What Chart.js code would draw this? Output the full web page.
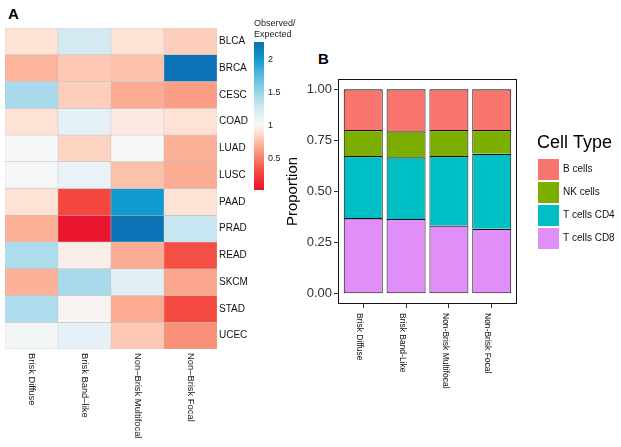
<!DOCTYPE html>
<html><head><meta charset="utf-8">
<script src="https://cdn.jsdelivr.net/npm/chart.js@4/dist/chart.umd.min.js"></script>
<style>
html,body{margin:0;padding:0;background:#fff;width:621px;height:447px;overflow:hidden;font-family:'Liberation Sans',Arial,Helvetica,sans-serif;}
canvas{position:absolute;}
.panel{position:absolute;font-weight:bold;font-size:15px;line-height:15px;color:#000;}
</style></head><body>
<div class="panel" style="left:8px;top:6px">A</div>
<div class="panel" style="left:318px;top:51px">B</div>
<canvas id="heat" width="257" height="447" style="left:0;top:0"></canvas>
<canvas id="cbar" width="50" height="200" style="left:253px;top:0"></canvas>
<canvas id="prop" width="341" height="407" style="left:280px;top:40px"></canvas>
<script>
// ---------- Panel A data (Observed / Expected) ----------
const cancerTypes = ['BLCA','BRCA','CESC','COAD','LUAD','LUSC','PAAD','PRAD','READ','SKCM','STAD','UCEC'];
const heatColumns = ['Brisk Diffuse','Brisk Band\u2013like','Non\u2013Brisk Multifocal','Non\u2013Brisk Focal'];
const briskDiffuse       = [0.90,0.72,1.45,0.90,1.05,1.05,0.90,0.70,1.43,0.70,1.42,1.06];
const briskBandLike      = [1.25,0.80,0.82,1.15,0.84,1.12,0.30,0.05,0.96,1.45,1.00,1.15];
const nonBriskMultifocal = [0.90,0.77,0.68,0.94,1.03,0.77,2.00,2.25,0.69,1.17,0.68,0.80];
const nonBriskFocal      = [0.82,2.25,0.63,0.90,0.70,0.69,0.90,1.30,0.33,0.66,0.31,0.57];
const colorbarRange = [0.03, 2.27];
const colorbarTicks = [0.5, 1, 1.5, 2];

// ---------- Panel B data (proportions) ----------
const patternLabels = ['Brisk Diffuse','Brisk Band-Like','Non-Brisk Multifocal','Non-Brisk Focal'];
const tCellsCD8 = [0.370,0.366,0.334,0.318];
const tCellsCD4 = [0.304,0.302,0.340,0.367];
const nkCells   = [0.127,0.127,0.127,0.116];
const bCells    = [0.199,0.205,0.199,0.199];
const proportionTicks = [0, 0.25, 0.5, 0.75, 1];

// ---------- styles ----------
const FONT = "'Liberation Sans', Arial, Helvetica, sans-serif";
Chart.defaults.font.family = FONT;
const heatColorStops = [[0.03,'#E8112D'],[0.30,'#F4473F'],[0.55,'#F88A72'],[0.75,'#FCBCA3'],[0.90,'#FEE2D6'],[1.02,'#F8F8F8'],[1.20,'#DDEEF5'],[1.45,'#A9DAEB'],[1.80,'#4DB6DF'],[2.00,'#129BD0'],[2.27,'#0A70B4']];
const cellColors = {'T cells CD8':'#E08EF8','T cells CD4':'#00BFC4','NK cells':'#7CAE00','B cells':'#F8766D'};

function hexRgb(h){return [parseInt(h.slice(1,3),16),parseInt(h.slice(3,5),16),parseInt(h.slice(5,7),16)];}
function colorFor(v){
  const s = heatColorStops;
  if (v <= s[0][0]) return s[0][1];
  for (let i=1;i<s.length;i++){
    if (v <= s[i][0]){
      const t=(v-s[i-1][0])/(s[i][0]-s[i-1][0]);
      const a=hexRgb(s[i-1][1]), b=hexRgb(s[i][1]);
      const c=a.map((x,k)=>Math.round(x+(b[k]-x)*t));
      return 'rgb('+c.join(',')+')';
    }
  }
  return s[s.length-1][1];
}

// ---------- Panel A heatmap ----------
const heatMatrix = cancerTypes.map((_, r) => [briskDiffuse[r], briskBandLike[r], nonBriskMultifocal[r], nonBriskFocal[r]]);
const heatLabelPlugin = {
  id:'heatLabels',
  afterDraw(chart){
    const ctx=chart.ctx, xs=chart.scales.x;
    ctx.save();
    ctx.font='9.4px '+FONT; ctx.fillStyle='#111'; ctx.textAlign='left'; ctx.textBaseline='middle';
    heatColumns.forEach((lab,i)=>{
      ctx.save(); ctx.translate(xs.getPixelForValue(i), chart.chartArea.bottom+4); ctx.rotate(Math.PI/2);
      ctx.fillText(lab,0,0); ctx.restore();
    });
    ctx.restore();
  }
};
new Chart(document.getElementById('heat'), {
  type:'bar',
  data:{
    labels: heatColumns,
    datasets: cancerTypes.map((name,r)=>({
      label:name, data: heatColumns.map(()=>1),
      backgroundColor: heatMatrix[r].map(colorFor),
      borderColor:'#BDBDBD', borderWidth:0.5, borderSkipped:false,
      barPercentage:1, categoryPercentage:1
    }))
  },
  options:{
    responsive:false, animation:false,
    layout:{padding:{left:5, top:28, right:0, bottom:0}},
    plugins:{legend:{display:false}, tooltip:{enabled:false}},
    scales:{
      x:{stacked:true, grid:{display:false}, border:{display:false}, ticks:{display:false}, afterFit:s=>{s.height=98;}},
      y:{stacked:true, position:'right', min:0, max:cancerTypes.length, reverse:true,
         grid:{display:false, drawTicks:false}, border:{display:false},
         afterBuildTicks:s=>{s.ticks=cancerTypes.map((_,i)=>({value:i+0.5}));},
         ticks:{autoSkip:false, padding:2, color:'#111', font:{size:10}, callback:(v,i)=>cancerTypes[i]},
         afterFit:s=>{s.width=40;}}
    }
  },
  plugins:[heatLabelPlugin]
});

// ---------- Colour bar ----------
new Chart(document.getElementById('cbar'), {
  type:'bar',
  data:{labels:[''], datasets:[{
    data:[colorbarRange],
    backgroundColor:(c)=>{
      const ch=c.chart; if(!ch.chartArea) return null;
      const y=ch.scales.y;
      const g=ch.ctx.createLinearGradient(0,y.getPixelForValue(colorbarRange[0]),0,y.getPixelForValue(colorbarRange[1]));
      heatColorStops.forEach(([v,col])=>g.addColorStop((v-colorbarRange[0])/(colorbarRange[1]-colorbarRange[0]),col));
      return g;
    },
    borderWidth:0, barPercentage:1, categoryPercentage:1
  }]},
  options:{
    responsive:false, animation:false,
    layout:{padding:{left:1, top:18.5, right:0, bottom:10}},
    plugins:{legend:{display:false}, tooltip:{enabled:false},
      title:{display:true, text:['Observed/','Expected'], align:'start', color:'#222',
             font:{size:9, weight:'normal', lineHeight:1.2}, padding:{top:0,bottom:1.9}}},
    scales:{
      x:{display:false},
      y:{position:'right', min:colorbarRange[0], max:colorbarRange[1],
         grid:{display:false, drawTicks:false}, border:{display:false},
         afterBuildTicks:s=>{s.ticks=colorbarTicks.map(v=>({value:v}));},
         ticks:{padding:4, color:'#222', font:{size:9}, callback:v=>String(v)},
         afterFit:s=>{s.width=39;}}
    }
  }
});

// ---------- Panel B stacked bars ----------
const propPlugin = {
  id:'propExtras',
  afterDraw(chart){
    const ctx=chart.ctx, a=chart.chartArea, xs=chart.scales.x;
    ctx.save();
    // panel border
    ctx.strokeStyle='#111'; ctx.lineWidth=1;
    ctx.strokeRect(Math.round(a.left)+0.5, Math.round(a.top)+0.5, Math.round(a.right-a.left)-1, Math.round(a.bottom-a.top)-1);
    // rotated x labels
    ctx.font='8.5px '+FONT; ctx.fillStyle='#111'; ctx.textAlign='left'; ctx.textBaseline='middle';
    patternLabels.forEach((lab,i)=>{
      ctx.save(); ctx.translate(xs.getPixelForValue(i)-4, a.bottom+9); ctx.rotate(Math.PI/2);
      ctx.fillText(lab,0,0); ctx.restore();
    });
    // legend
    ctx.textAlign='left'; ctx.textBaseline='middle'; ctx.fillStyle='#000';
    ctx.font='18px '+FONT;
    ctx.fillText('Cell Type', 257, 103);
    const items = chart.data.datasets.slice().reverse();
    ctx.font='10px '+FONT;
    items.forEach((ds,i)=>{
      const y0 = 119 + i*23;
      ctx.fillStyle=ds.backgroundColor; ctx.fillRect(258, y0, 21, 21);
      ctx.fillStyle='#111'; ctx.fillText(ds.label, 283, y0+10.5);
    });
    ctx.restore();
  }
};
const series = [['T cells CD8',tCellsCD8],['T cells CD4',tCellsCD4],['NK cells',nkCells],['B cells',bCells]];
new Chart(document.getElementById('prop'), {
  type:'bar',
  data:{datasets: series.map(([name,vals],k)=>({
    label:name, data: vals.map((v,i)=>({x:i,y:v})),
    backgroundColor: cellColors[name], borderColor:'#111',
    borderWidth: k===0 ? {top:1.3, right:1, bottom:1, left:1} : {top:1.3, right:1, bottom:0, left:1}, borderSkipped:false,
    inflateAmount:0, barPercentage:0.91, categoryPercentage:1
  }))},
  options:{
    responsive:false, animation:false,
    layout:{padding:{left:0, top:39, right:104, bottom:0}},
    plugins:{legend:{display:false}, tooltip:{enabled:false}},
    scales:{
      x:{type:'linear', stacked:true, offset:false, min:-0.59, max:patternLabels.length-1+0.59,
         afterBuildTicks:s=>{s.ticks=patternLabels.map((_,i)=>({value:i}));},
         grid:{offset:false, drawOnChartArea:false, drawTicks:true, tickLength:4, color:'#333'},
         border:{display:false}, ticks:{display:false},
         afterFit:s=>{s.height=143;}},
      y:{stacked:true, min:-0.05, max:1.05,
         afterBuildTicks:s=>{s.ticks=proportionTicks.map(v=>({value:v}));},
         grid:{drawOnChartArea:false, drawTicks:true, tickLength:4, color:'#333'},
         border:{display:false},
         ticks:{padding:2, color:'#333', font:{size:13}, callback:v=>Number(v).toFixed(2)},
         title:{display:true, text:'Proportion', color:'#000', font:{size:15}, padding:{top:4,bottom:0}},
         afterFit:s=>{s.width=58;}}
    }
  },
  plugins:[propPlugin]
});
</script>
</body></html>
